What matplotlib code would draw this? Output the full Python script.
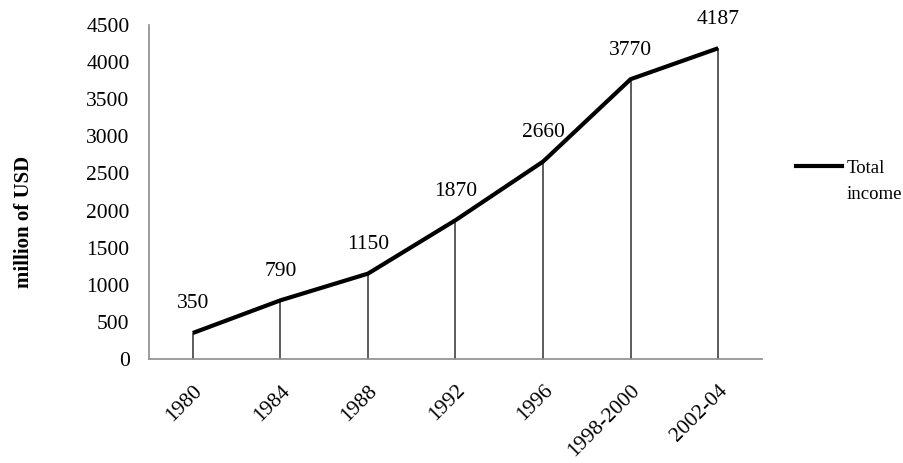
import matplotlib
matplotlib.use("Agg")
import matplotlib.pyplot as plt
from matplotlib.lines import Line2D

# Income series
periods = ["1980", "1984", "1988", "1992", "1996", "1998-2000", "2002-04"]
total_income = [350, 790, 1150, 1870, 2660, 3770, 4187]
y_ticks = [0, 500, 1000, 1500, 2000, 2500, 3000, 3500, 4000, 4500]
series_name = ["Total", "income"]

plt.rcParams["font.family"] = ["Liberation Serif", "DejaVu Serif"]

W, H = 904, 463
fig = plt.figure(figsize=(W / 100, H / 100), dpi=100)
ax = fig.add_axes([149 / W, 1 - 359 / H, (762 - 149) / W, (359 - 25) / H])

x = list(range(len(periods)))

# drop lines from each point to the axis
ax.vlines(x, 0, total_income, colors="#303030", linewidth=1.1, zorder=2)
ax.plot(x, total_income, color="black", linewidth=3.0, solid_joinstyle="round",
        solid_capstyle="butt", zorder=3)

for xi, v in zip(x, total_income):
    ax.annotate(f"{v}", (xi, v), xytext=(0, 21), textcoords="offset points",
                ha="center", va="center", fontsize=15.5)

ax.set_xlim(-0.5, len(periods) - 0.5)
ax.set_ylim(0, 4500)
ax.set_yticks(y_ticks)
ax.set_yticklabels([str(t) for t in y_ticks], fontsize=15.5)
ax.set_xticks(x)
ax.set_xticklabels(periods, fontsize=15.5, rotation=45, ha="right", va="top",
                   rotation_mode="anchor")
ax.tick_params(axis="both", length=0)
ax.tick_params(axis="y", pad=14)
ax.tick_params(axis="x", pad=16)

for side in ("top", "right"):
    ax.spines[side].set_visible(False)
for side in ("left", "bottom"):
    ax.spines[side].set_color("#8c8c8c")
    ax.spines[side].set_linewidth(1.2)

fig.text(24 / W, 1 - 222 / H, "million of USD", rotation=90, ha="center",
         va="center", fontsize=15, fontweight="bold")

# legend: sample line and the two-line series name
fig.add_artist(Line2D([796 / W, 842 / W], [1 - 166 / H, 1 - 166 / H],
                      transform=fig.transFigure, color="black", linewidth=3.0))
fig.text(847 / W, 1 - 173 / H, series_name[0], ha="left", va="baseline",
         fontsize=13.5)
fig.text(847 / W, 1 - 199 / H, series_name[1], ha="left", va="baseline",
         fontsize=13.5)

fig.savefig("out.png", dpi=100)
